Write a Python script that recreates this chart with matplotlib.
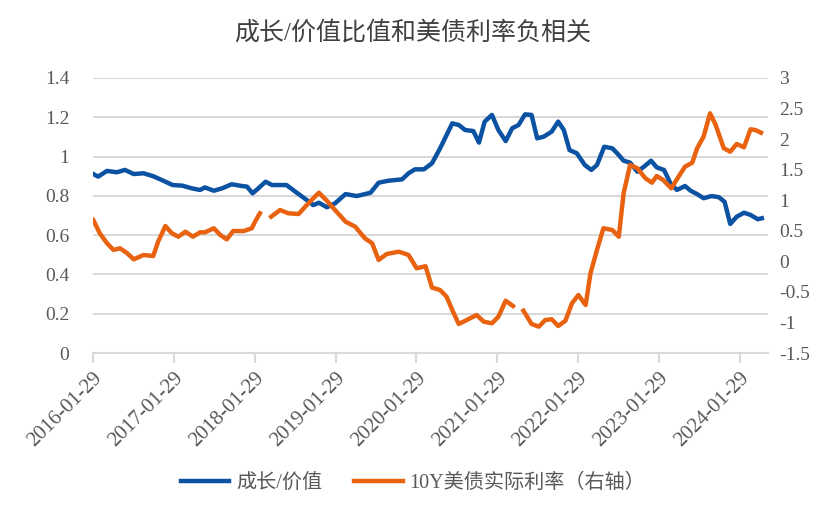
"""Growth/value ratio vs 10Y US real yield, dual axis line chart."""

import matplotlib
matplotlib.use('Agg')
import matplotlib.pyplot as plt
import matplotlib.dates as mdates
import numpy as np
import pandas as pd

# decimal-year positions and values
growth_t = [2016.08, 2016.14, 2016.25, 2016.37, 2016.47, 2016.58, 2016.70, 2016.82,
            2016.95, 2017.06, 2017.18, 2017.30, 2017.40, 2017.46, 2017.57, 2017.67,
            2017.79, 2017.92, 2017.98, 2018.05, 2018.12, 2018.21, 2018.29, 2018.47,
            2018.58, 2018.72, 2018.80, 2018.87, 2018.97, 2019.07, 2019.20, 2019.34,
            2019.51, 2019.61, 2019.73, 2019.90, 2019.98, 2020.06, 2020.17, 2020.27,
            2020.37, 2020.52, 2020.60, 2020.68, 2020.78, 2020.85, 2020.92, 2021.01,
            2021.09, 2021.18, 2021.26, 2021.34, 2021.42, 2021.50, 2021.57, 2021.65,
            2021.75, 2021.83, 2021.90, 2021.97, 2022.06, 2022.16, 2022.24, 2022.31,
            2022.40, 2022.50, 2022.56, 2022.64, 2022.72, 2022.81, 2022.89, 2022.98,
            2023.05, 2023.14, 2023.22, 2023.30, 2023.40, 2023.47, 2023.55, 2023.63,
            2023.73, 2023.82, 2023.89, 2023.96, 2024.04, 2024.13, 2024.21, 2024.30,
            2024.35]
growth_value = [0.911, 0.898, 0.927, 0.920, 0.932, 0.911, 0.915, 0.900,
                0.876, 0.855, 0.852, 0.838, 0.830, 0.843, 0.826, 0.838,
                0.859, 0.850, 0.847, 0.813, 0.838, 0.872, 0.855, 0.855,
                0.821, 0.779, 0.753, 0.765, 0.742, 0.762, 0.809, 0.799,
                0.816, 0.867, 0.877, 0.884, 0.915, 0.935, 0.935, 0.966,
                1.042, 1.169, 1.161, 1.135, 1.130, 1.071, 1.178, 1.212,
                1.135, 1.079, 1.144, 1.161, 1.215, 1.212, 1.093, 1.101,
                1.127, 1.178, 1.135, 1.033, 1.017, 0.957, 0.932, 0.957,
                1.050, 1.042, 1.017, 0.979, 0.969, 0.923, 0.948, 0.979,
                0.945, 0.932, 0.864, 0.830, 0.850, 0.826, 0.809, 0.788,
                0.799, 0.793, 0.770, 0.657, 0.694, 0.714, 0.703, 0.681,
                0.686]

# NaN marks the two breaks in the real-yield series
yield_t = [2016.08, 2016.16, 2016.25, 2016.33, 2016.41, 2016.49, 2016.58, 2016.70,
           2016.82, 2016.88, 2016.97, 2017.05, 2017.13, 2017.22, 2017.31, 2017.40,
           2017.46, 2017.57, 2017.65, 2017.73, 2017.81, 2017.94, 2018.04, 2018.08,
           2018.14, 2018.20, 2018.28, 2018.39, 2018.49, 2018.62, 2018.74, 2018.87,
           2018.97, 2019.07, 2019.20, 2019.32, 2019.44, 2019.53, 2019.61, 2019.71,
           2019.86, 2019.98, 2020.08, 2020.19, 2020.27, 2020.37, 2020.45, 2020.52,
           2020.60, 2020.70, 2020.82, 2020.91, 2021.01, 2021.09, 2021.18, 2021.27,
           2021.33, 2021.40, 2021.50, 2021.59, 2021.67, 2021.75, 2021.83, 2021.92,
           2022.00, 2022.08, 2022.17, 2022.23, 2022.31, 2022.39, 2022.50, 2022.58,
           2022.64, 2022.72, 2022.81, 2022.91, 2022.99, 2023.05, 2023.13, 2023.23,
           2023.32, 2023.40, 2023.49, 2023.55, 2023.63, 2023.71, 2023.78, 2023.88,
           2023.96, 2024.04, 2024.13, 2024.21, 2024.27, 2024.34]
yield_value = [0.676, 0.459, 0.295, 0.186, 0.213, 0.141, 0.033, 0.104,
               0.087, 0.321, 0.578, 0.459, 0.403, 0.485, 0.403, 0.475,
               0.475, 0.541, 0.431, 0.360, 0.496, 0.496, 0.541, 0.649,
               0.786, np.nan, 0.731, 0.840, 0.786, 0.775, 0.950, 1.123,
               0.990, 0.840, 0.649, 0.567, 0.377, 0.295, 0.022, 0.120,
               0.158, 0.104, -0.114, -0.080, -0.430, -0.469, -0.579, -0.796,
               -1.025, -0.960, -0.878, -0.988, -1.014, -0.906, -0.644, -0.731,
               np.nan, -0.808, -1.025, -1.069, -0.960, -0.948, -1.058, -0.971,
               -0.687, -0.551, -0.715, -0.196, 0.186, 0.541, 0.513, 0.403,
               1.113, 1.577, 1.523, 1.359, 1.287, 1.396, 1.331, 1.195,
               1.385, 1.549, 1.614, 1.850, 2.040, 2.422, 2.231, 1.850,
               1.794, 1.920, 1.866, 2.160, 2.149, 2.105]

tick_dates = ['2016-01-29', '2017-01-29', '2018-01-29', '2019-01-29', '2020-01-29',
              '2021-01-29', '2022-01-29', '2023-01-29', '2024-01-29']
left_ticks = [0, 0.2, 0.4, 0.6, 0.8, 1, 1.2, 1.4]
right_ticks = [-1.5, -1, -0.5, 0, 0.5, 1, 1.5, 2, 2.5, 3]

title = '成长/价值比值和美债利率负相关'
growth_label = '成长/价值'
yield_label = '10Y美债实际利率（右轴）'


def to_dates(ts):
    out = []
    for t in ts:
        y = int(t)
        start = pd.Timestamp(y, 1, 1)
        span = (pd.Timestamp(y + 1, 1, 1) - start).days
        out.append(start + pd.Timedelta(days=(t - y) * span))
    return out


BLUE = '#0b52a3'
ORANGE = '#e8620f'
GREY = '#595959'
FONTS = ['Liberation Serif', 'Noto Sans CJK SC']

fig = plt.figure(figsize=(8.26, 5.16), dpi=100)
ax = fig.add_axes([93 / 826, 1 - 353 / 516, 675 / 826, 275 / 516])
ax2 = ax.twinx()

l1, = ax.plot(to_dates(growth_t), growth_value, color=BLUE, lw=3.2,
              solid_joinstyle='round', label=growth_label)
l2, = ax2.plot(to_dates(yield_t), yield_value, color=ORANGE, lw=3.2,
               solid_joinstyle='round', label=yield_label)

ax.set_ylim(0, 1.4)
ax.set_yticks(left_ticks)
ax.set_yticklabels([f'{v:g}' for v in left_ticks])
ax2.set_ylim(-1.5, 3)
ax2.set_yticks(right_ticks)
ax2.set_yticklabels([f'{v:g}' for v in right_ticks])

ticks = [pd.Timestamp(d) for d in tick_dates]
ax.set_xlim(pd.Timestamp('2016-01-29'), pd.Timestamp('2024-06-05'))
ax.set_xticks(ticks)
ax.xaxis.set_major_formatter(mdates.DateFormatter('%Y-%m-%d'))

ax.grid(True, axis='y', color='#d9d9d9', lw=1.5)
ax.set_axisbelow(True)
for a in (ax, ax2):
    for s in ('top', 'left', 'right', 'bottom'):
        a.spines[s].set_visible(False)
ax.spines['bottom'].set_visible(True)
ax.spines['bottom'].set_color('#d9d9d9')
ax.spines['bottom'].set_linewidth(1.5)

ax.tick_params(axis='y', length=0, pad=17, labelsize=14, labelcolor=GREY)
ax2.tick_params(axis='y', length=0, pad=8, labelsize=14, labelcolor=GREY)
ax.tick_params(axis='x', length=7, width=1.5, color='#d9d9d9', pad=4,
               labelsize=15, labelcolor=GREY)
for lab in ax.get_xticklabels():
    lab.set_rotation(45)
    lab.set_ha('right')
    lab.set_rotation_mode('anchor')
for lab in ax.get_yticklabels() + ax2.get_yticklabels() + ax.get_xticklabels():
    lab.set_fontfamily(FONTS)

fig.text(0.5, 1 - 33 / 516, title, ha='center', va='center', fontsize=18,
         color='#404040', family=FONTS)

leg = fig.legend([l1, l2], [growth_label, yield_label], loc='center',
                 bbox_to_anchor=(0.5, 1 - 483 / 516), ncol=2, frameon=False,
                 handlelength=2.4, handletextpad=0.35, columnspacing=1.6,
                 prop={'family': FONTS, 'size': 14.5})
for t in leg.get_texts():
    t.set_color(GREY)

fig.savefig('out.png', dpi=100)
